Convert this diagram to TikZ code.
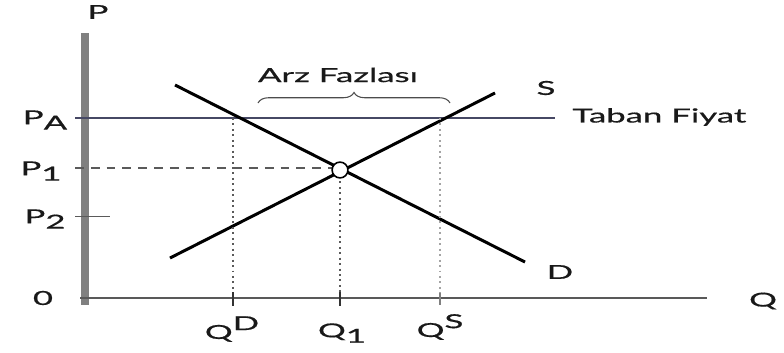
\documentclass[tikz,border=0pt]{standalone}
\usepackage{fontspec}
\setmainfont{Lato}[FakeStretch=1.8, FakeBold=0.6]
\usetikzlibrary{positioning, calc, decorations.pathreplacing}
\definecolor{cAxis}{RGB}{128,128,128}
\definecolor{cFloor}{RGB}{70,72,100}
\definecolor{cGuide}{RGB}{90,90,90}
\tikzset{
	lbl/.style={font=\fontsize{11}{13}\selectfont, inner sep=0pt, text=black!90},
	curve/.style={line width=1.7pt, black},
	guide/.style={line width=1.1pt, dotted, cGuide},
	tickmark/.style={line width=1.2pt, black!80},
	% axis helpers
	paxis/.style={line width=5pt, cAxis},
	qaxis/.style={line width=1.7pt, black!65},
}
\newcommand{\lo}[1]{\raisebox{-0.55ex}{#1}}
\newcommand{\hi}[1]{\raisebox{0.9ex}{#1}}

\begin{document}
\begin{tikzpicture}[x=0.02cm, y=-0.02cm]
	\useasboundingbox (0,0) rectangle (784,352);
	% axes
	\coordinate (ptop) at (85,33);
	\coordinate (pbot) at (85,305);
	\coordinate (qleft) at (80,298);
	\coordinate (qright) at (707,298);
	\draw[paxis] (ptop) -- (pbot);
	\draw[qaxis] (qleft) -- (qright);
	\node[lbl] (plbl) at (98,12) {P};
	\node[lbl] (qlbl) at (763,301) {Q};
	\node[lbl] (zero) at (43,298) {0};
	% price levels
	\coordinate (pa0) at (75,118);
	\coordinate (pa1) at (555,118);
	\coordinate (p10) at (75,168);
	\coordinate (p11) at (336,168);
	\coordinate (p20) at (75,216);
	\coordinate (p21) at (110,216);
	\draw[cFloor, line width=0.6pt] (pa0) -- (pa1);
	\draw[cGuide, line width=0.7pt, dash pattern=on 5pt off 4pt] (p10) -- (p11);
	\draw[cGuide, line width=0.5pt] (p20) -- (p21);
	\node[lbl] (palbl) at (45,120) {P\lo{A}};
	\node[lbl] (p1lbl) at (41,171) {P\lo{1}};
	\node[lbl] (p2lbl) at (45,219) {P\lo{2}};
	\node[lbl, anchor=west] (taban) at (572,117) {Taban Fiyat};
	% demand and supply
	\coordinate (d0) at (175,85);
	\coordinate (d1) at (525,262);
	\coordinate (s0) at (170,258);
	\coordinate (s1) at (495,93);
	\draw[curve] (d0) -- (d1);
	\draw[curve] (s0) -- (s1);
	\node[lbl] (dlbl) at (560,272) {D};
	\node[lbl] (slbl) at (546,88) {S};
	% quantities
	\coordinate (qd0) at (233,118);
	\coordinate (qd1) at (233,306);
	\coordinate (q10) at (340,176);
	\coordinate (q11) at (340,306);
	\coordinate (qs0) at (440,118);
	\coordinate (qs1) at (440,306);
	\draw[guide] (qd0) -- (qd1);
	\draw[guide] (q10) -- (q11);
	\draw[guide, cGuide!55] (qs0) -- (qs1);
	\foreach \x in {233,340} {
		\draw[tickmark] (\x,292) -- (\x,306);
	}
	\draw[tickmark, black!50] (440,293) -- (440,305);
	\node[lbl] (qdlbl) at (232,329) {Q\hi{D}};
	\node[lbl] (q1lbl) at (342,333) {Q\lo{1}};
	\node[lbl] (qslbl) at (440,327) {Q\hi{S}};
	% equilibrium
	\node[circle, draw=black, fill=white, line width=0.9pt, minimum size=9pt, inner sep=0pt] (eq) at (340,170) {};
	% surplus
	\coordinate (br0) at (258,103);
	\coordinate (br1) at (450,103);
	\draw[black!70, line width=0.6pt, decorate, decoration={brace, amplitude=6pt}] (br0) -- (br1);
	\node[lbl] (arz) at (338,75) {Arz Fazlası};
\end{tikzpicture}
\end{document}
